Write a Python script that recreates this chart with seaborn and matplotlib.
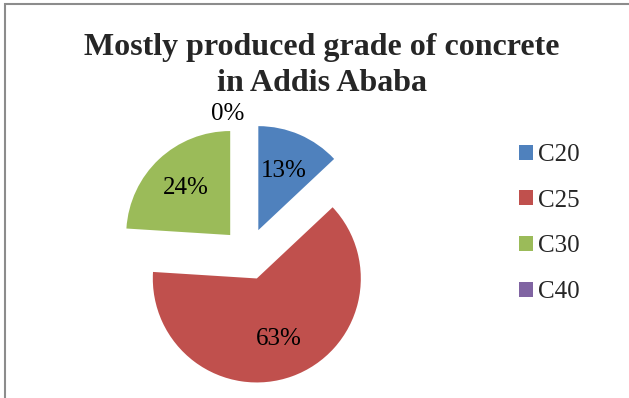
import matplotlib
matplotlib.use("Agg")
import matplotlib.pyplot as plt
import seaborn as sns
from matplotlib.patches import Rectangle

categories = ["C20", "C25", "C30", "C40"]
values = [13, 63, 24, 0]
colors = ["#4F81BD", "#C0504D", "#9BBB59", "#8064A2"]
title = "Mostly produced grade of concrete\nin Addis Ababa"

sns.set_theme(style="white")
plt.rcParams["font.family"] = ["Liberation Serif", "DejaVu Serif"]

W, H = 629, 398
fig = plt.figure(figsize=(W / 100, H / 100), dpi=100)
fig.patch.set_facecolor("white")

# pie axes: centre (248,254) px, radius 104 px
r = 104
cx, cy = 248, 254
half = 1.5 * r
ax = fig.add_axes([(cx - half) / W, (H - cy - half) / H, 2 * half / W, 2 * half / H])
ax.set_xlim(-1.5, 1.5)
ax.set_ylim(-1.5, 1.5)
ax.set_aspect("equal")
ax.axis("off")

wedges, texts, autotexts = ax.pie(
    values, colors=colors, explode=[0.25] * 4, startangle=90, counterclock=False,
    autopct=lambda p: f"{p:.0f}%", pctdistance=0.62,
    wedgeprops=dict(linewidth=0), textprops=dict(fontsize=18, color="black"),
    radius=1.0, frame=False,
)
ax.set_xlim(-1.5, 1.5)
ax.set_ylim(-1.5, 1.5)
autotexts[3].set_position((-0.2, 1.35))

fig.text(322 / W, 1 - 33 / H, title, ha="center", va="top", fontsize=23,
         fontweight="bold", linespacing=1.3)

leg = fig.legend(wedges, categories, loc="upper left",
                 bbox_to_anchor=(519 / W, 1 - 144 / H), frameon=False,
                 fontsize=18, handlelength=0.55, handleheight=0.55,
                 handletextpad=0.2, labelspacing=0.95, borderpad=0, borderaxespad=0)

fig.patches.append(Rectangle((5 / W, -0.1), 1.2, 1 - 4 / H + 0.1, transform=fig.transFigure,
                             fill=False, edgecolor="#8c8c8c", linewidth=1.5))

fig.savefig("out.png", dpi=100, facecolor="white")
